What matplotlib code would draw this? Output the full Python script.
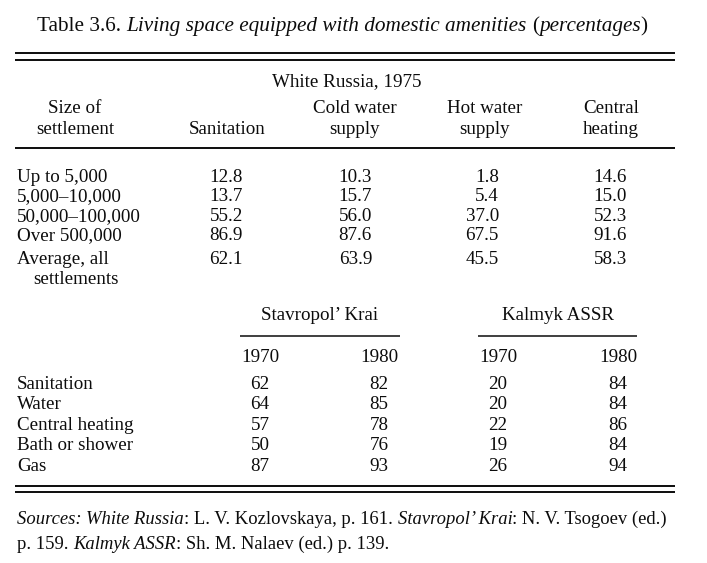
import matplotlib
matplotlib.use("Agg")
import matplotlib.pyplot as plt
from matplotlib.font_manager import FontProperties

# White Russia, 1975 (percent of living space)
sizes = ["Up to 5,000", "5,000\u201310,000", "50,000\u2013100,000", "Over 500,000"]
sanitation = [12.8, 13.7, 55.2, 86.9]
cold_water = [10.3, 15.7, 56.0, 87.6]
hot_water = [1.8, 5.4, 37.0, 67.5]
central_heat = [14.6, 15.0, 52.3, 91.6]
averages = [62.1, 63.9, 45.5, 58.3]

# Stavropol' Krai and Kalmyk ASSR
amenities = ["Sanitation", "Water", "Central heating", "Bath or shower", "Gas"]
years = ["1970", "1980", "1970", "1980"]
stav_1970 = [62, 64, 57, 50, 87]
stav_1980 = [82, 85, 78, 76, 93]
kalm_1970 = [20, 20, 22, 19, 26]
kalm_1980 = [84, 84, 86, 84, 94]

W, H = 707, 563
fig = plt.figure(figsize=(W / 100, H / 100), dpi=100)
ax = fig.add_axes([0, 0, 1, 1])
ax.set_xlim(0, W)
ax.set_ylim(H, 0)
ax.axis("off")

SERIF = "Liberation Serif"
INK = "#0c0c0c"
BODY = 13.7
renderer = fig.canvas.get_renderer()


def put(x, y, s, ha="left", size=BODY, style="normal"):
    ax.text(x, y, s, ha=ha, va="baseline", fontsize=size, fontstyle=style,
            family=SERIF, color=INK)


def rule(y, x0=15, x1=675, lw=1.4):
    ax.plot([x0, x1], [y, y], color=INK, lw=lw, solid_capstyle="butt")


def rich(x, y, parts, size):
    # draw pieces of mixed roman / italic text one after the other
    for s, style in parts:
        fp = FontProperties(family=SERIF, size=size, style=style)
        ax.text(x, y, s, ha="left", va="baseline", fontproperties=fp, color=INK)
        w = renderer.get_text_width_height_descent(s + "|", fp, ismath=False)[0]
        wb = renderer.get_text_width_height_descent("|", fp, ismath=False)[0]
        x += w - wb


# title
rich(37, 31, [("Table 3.6. ", "normal"),
              ("Living space equipped with domestic amenities ", "italic"),
              ("(", "normal"), ("percentages", "italic"), (")", "normal")], 15.3)
rule(53)
rule(60)

# first block (baselines)
put(347, 86, "White Russia, 1975", ha="center")
put(75, 113, "Size of", ha="center")
put(75, 134, "settlement", ha="center")
put(227, 134, "Sanitation", ha="center")
put(355, 113, "Cold water", ha="center")
put(355, 134, "supply", ha="center")
put(485, 113, "Hot water", ha="center")
put(485, 134, "supply", ha="center")
put(611, 113, "Central", ha="center")
put(611, 134, "heating", ha="center")
rule(148)

col_right = [243, 372, 499, 627]
row_y = [182, 201, 221, 240]
for i, label in enumerate(sizes):
    put(17, row_y[i], label)
    for xr, vals in zip(col_right, [sanitation, cold_water, hot_water, central_heat]):
        put(xr, row_y[i], f"{vals[i]:.1f}", ha="right")
put(17, 264, "Average, all")
put(33, 284, "settlements")
for xr, v in zip(col_right, averages):
    put(xr, 264, f"{v:.1f}", ha="right")

# second block
put(320, 320, "Stavropol\u2019 Krai", ha="center")
put(558, 320, "Kalmyk ASSR", ha="center")
rule(336, 240, 400, lw=1.1)
rule(336, 478, 637, lw=1.1)
col_mid = [260, 379, 498, 618]
for xc, yr in zip(col_mid, years):
    put(xc, 362, yr, ha="center")
amen_y = [389, 409, 430, 450, 471]
for i, label in enumerate(amenities):
    put(17, amen_y[i], label)
    for xc, vals in zip(col_mid, [stav_1970, stav_1980, kalm_1970, kalm_1980]):
        put(xc, amen_y[i], str(vals[i]), ha="center")
rule(486)
rule(492)

# sources
rich(17, 524, [("Sources: ", "italic"), ("White Russia", "italic"),
               (": L. V. Kozlovskaya, p. 161. ", "normal"),
               ("Stavropol\u2019 Krai", "italic"),
               (": N. V. Tsogoev (ed.)", "normal")], 13.4)
rich(17, 549, [("p. 159. ", "normal"), ("Kalmyk ASSR", "italic"),
               (": Sh. M. Nalaev (ed.) p. 139.", "normal")], 13.4)

fig.savefig("out.png", dpi=100)
